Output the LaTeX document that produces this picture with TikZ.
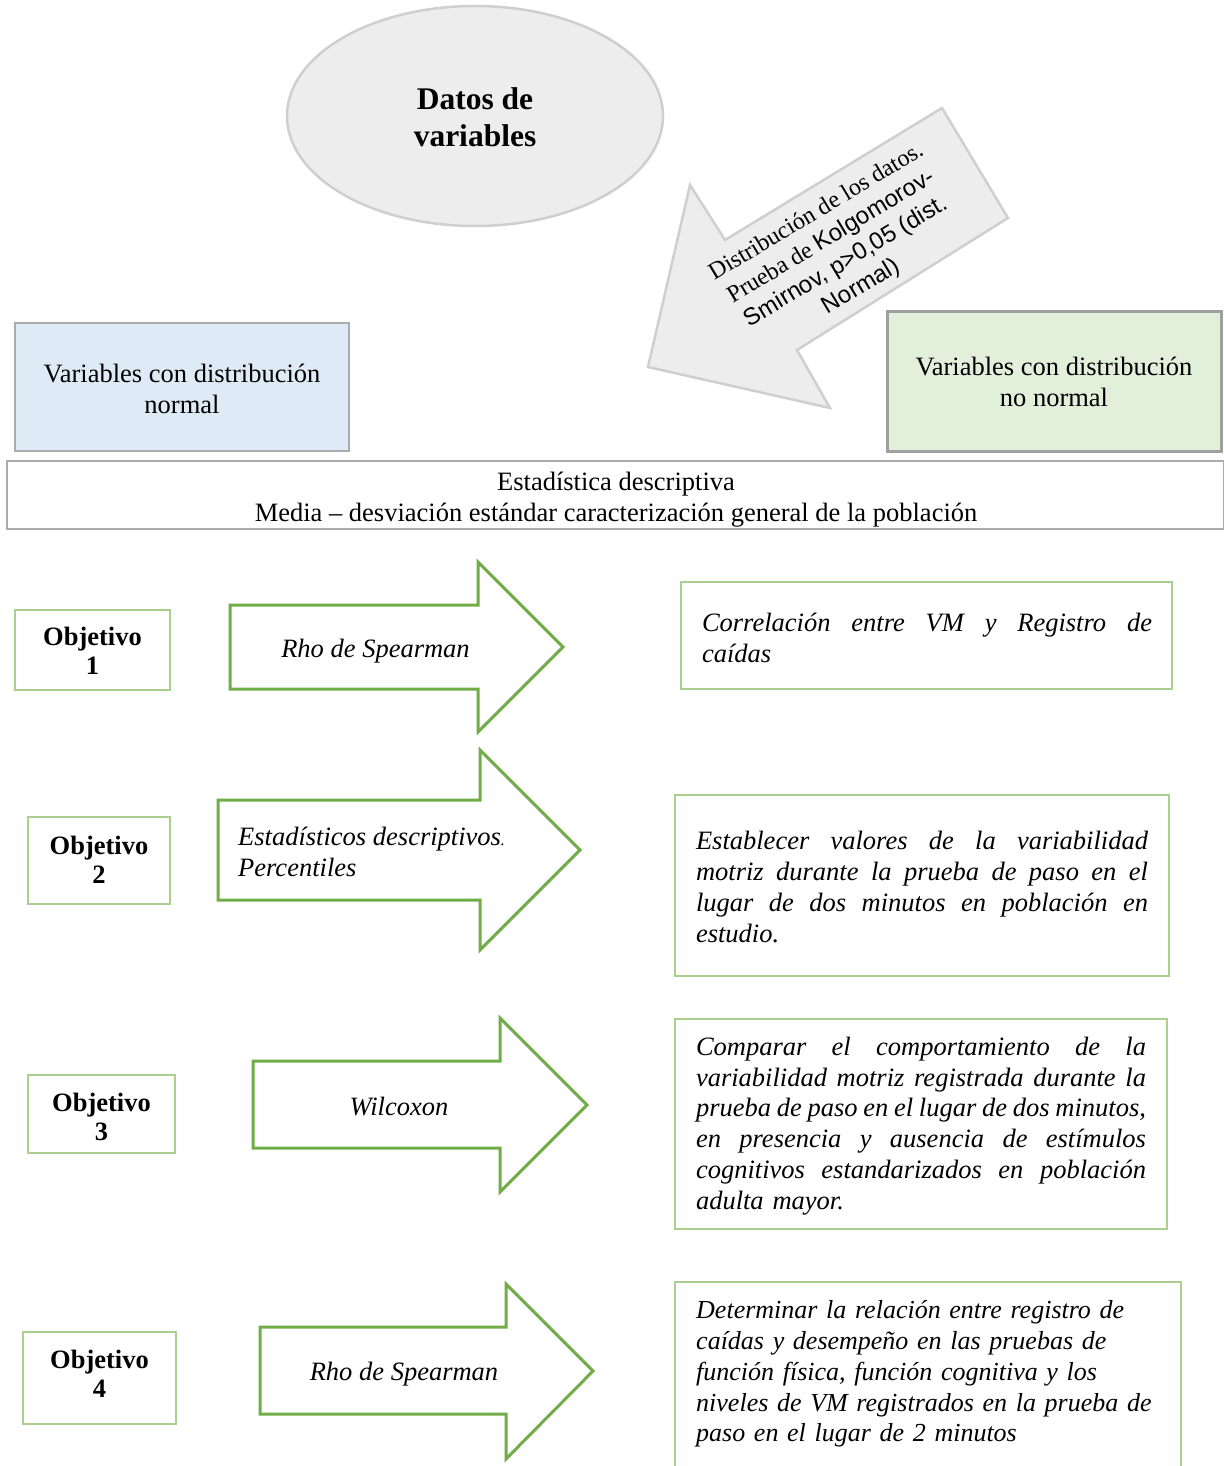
\documentclass[tikz,border=0pt]{standalone}
\usepackage{fontspec}
\setmainfont{Liberation Serif}[ItalicFont={Liberation Serif Italic}, BoldFont={Liberation Serif Bold}, BoldItalicFont={Liberation Serif Bold Italic}]
\newfontfamily\arialfont{Liberation Sans}
\usetikzlibrary{shapes.geometric}
\definecolor{objgreen}{HTML}{A9D08E}
\definecolor{arrgreen}{HTML}{70AD47}
\definecolor{lightgrayfill}{HTML}{EDEDED}
\definecolor{ellborder}{HTML}{CFCFCF}
\definecolor{bluefill}{HTML}{DEEBF7}
\definecolor{greenfill}{HTML}{E2EFDA}
\definecolor{boxgray}{HTML}{ABABAB}
\definecolor{darkboxgray}{HTML}{A0A0A0}
\newcommand{\jline}[2]{\makebox[#1][s]{\spaceskip=0pt\xspaceskip=0pt #2}}
\tikzset{
  txt/.style={font=\fontsize{26.5}{31}\selectfont, inner sep=0pt},
  itxt/.style={font=\fontsize{26.5}{30.8}\selectfont\itshape, inner sep=0pt},
  btxt/.style={font=\fontsize{26.5}{29.5}\selectfont\bfseries, inner sep=0pt, align=center},
  objbox/.style={draw=objgreen, line width=2.5pt, fill=white, inner sep=0pt},
  rbox/.style={draw=objgreen, line width=2.5pt, inner sep=0pt},
  arrshape/.style={draw=arrgreen, line width=3pt, line join=miter, fill=white},
}
\begin{document}
\begin{tikzpicture}[x=1pt,y=-1pt]
\useasboundingbox[fill=white] (0,0) rectangle (1223,1466);

% ellipse
\node[ellipse, draw=ellborder, fill=lightgrayfill, line width=2.5pt, minimum width=376pt, minimum height=220pt, inner sep=0pt] (datos) at (475,116) {};
\node[font=\fontsize{31.5}{37}\selectfont\bfseries, align=center, inner sep=0pt] (datostxt) at (475,117) {Datos de\\variables};

% big gray arrow
\draw[fill=lightgrayfill, draw=ellborder, line width=2.5pt, line join=miter]
  (942,108) -- (1008,218) -- (797,350) -- (830,408) -- (648,367) -- (690,185) -- (725,240) -- cycle;
\node[rotate=31, align=center, font=\fontsize{24}{29}\selectfont, inner sep=0pt] (ktext) at (839,250)
  {Distribución de los datos.\\ Prueba de {\arialfont Kolgomorov-}\\ {\arialfont Smirnov, p>0,05 (dist.}\\ {\arialfont Normal)}};

% distribution boxes
\node[draw=boxgray, fill=bluefill, line width=2.5pt, minimum width=334pt, minimum height=128pt, inner sep=0pt] (normal) at (182,387) {};
\node[txt, align=center] (normaltxt) at (182,389) {Variables con distribución\\normal};
\node[draw=darkboxgray, fill=greenfill, line width=3pt, minimum width=334pt, minimum height=140pt, inner sep=0pt] (nonormal) at (1054,381) {};
\node[txt, align=center] (nonormaltxt) at (1054,382) {Variables con distribución\\no normal};

% descriptive box
\draw[draw=boxgray, line width=2pt] (7,461) rectangle (1224,529);
\node[txt, align=center] (desc) at (616,500) {Estadística descriptiva\\Media – desviación estándar caracterización general de la población};

% objective boxes
\node[objbox, minimum width=155pt, minimum height=80pt] (o1) at (92.5,650) {};
\node[btxt] (o1t) at (92.5,651) {Objetivo\\1};
\node[objbox, minimum width=142pt, minimum height=87pt] (o2) at (99,860.5) {};
\node[btxt] (o2t) at (99,860) {Objetivo\\2};
\node[objbox, minimum width=147pt, minimum height=78pt] (o3) at (101.5,1114) {};
\node[btxt] (o3t) at (101.5,1117) {Objetivo\\3};
\node[objbox, minimum width=153pt, minimum height=92pt] (o4) at (99.5,1378) {};
\node[btxt] (o4t) at (99.5,1374) {Objetivo\\4};

% green arrows
\draw[arrshape] (230,605) -- (478,605) -- (478,562) -- (563,647) -- (478,732) -- (478,689) -- (230,689) -- cycle;
\node[itxt] (a1) at (375.5,651) {Rho de Spearman};
\draw[arrshape] (218,800) -- (480,800) -- (480,750) -- (580,850) -- (480,950) -- (480,900) -- (218,900) -- cycle;
\node[itxt, align=left, anchor=west] (a2) at (238,852) {Estadísticos descriptivos{\fontsize{16}{16}\selectfont.}\\Percentiles};
\draw[arrshape] (253,1061) -- (500,1061) -- (500,1018) -- (587,1105) -- (500,1192) -- (500,1148) -- (253,1148) -- cycle;
\node[itxt] (a3) at (399,1106) {Wilcoxon};
\draw[arrshape] (260,1327) -- (506,1327) -- (506,1284) -- (593,1371) -- (506,1459) -- (506,1414) -- (260,1414) -- cycle;
\node[itxt] (a4) at (404,1374) {Rho de Spearman};

% result boxes
\node[rbox, minimum width=491pt, minimum height=107pt] (r1) at (926.5,635.5) {};
\node[itxt, text width=450pt, align=left] (r1t) at (927,638)
  {\jline{450pt}{Correlación entre VM y Registro de}\\caídas};
\node[rbox, minimum width=494pt, minimum height=181pt] (r2) at (922,885.5) {};
\node[itxt, text width=452pt, align=left] (r2t) at (922,887)
  {\jline{452pt}{Establecer valores de la variabilidad}\\
   \jline{452pt}{motriz durante la prueba de paso en el}\\
   \jline{452pt}{lugar de dos minutos en población en}\\
   estudio.};
\node[rbox, minimum width=492pt, minimum height=210pt] (r3) at (921,1124) {};
\node[itxt, text width=450pt, align=left] (r3t) at (921,1126)
  {\jline{450pt}{Comparar el comportamiento de la}\\
   \jline{450pt}{variabilidad motriz registrada durante la}\\
   \jline{450pt}{prueba de paso en el lugar de dos minutos,}\\
   \jline{450pt}{en presencia y ausencia de estímulos}\\
   \jline{450pt}{cognitivos estandarizados en población}\\
   adulta mayor.};
\draw[draw=objgreen, line width=2.5pt] (675,1480) -- (675,1282) -- (1181,1282) -- (1181,1480);
\node[itxt, font=\fontsize{26}{30.8}\selectfont\itshape, text width=470pt, align=left, anchor=west] (r4t) at (696,1374)
  {Determinar la relación entre registro de\\
   caídas y desempeño en las pruebas de\\
   función física, función cognitiva y los\\
   niveles de VM registrados en la prueba de\\
   paso en el lugar de 2 minutos};
\end{tikzpicture}
\end{document}
